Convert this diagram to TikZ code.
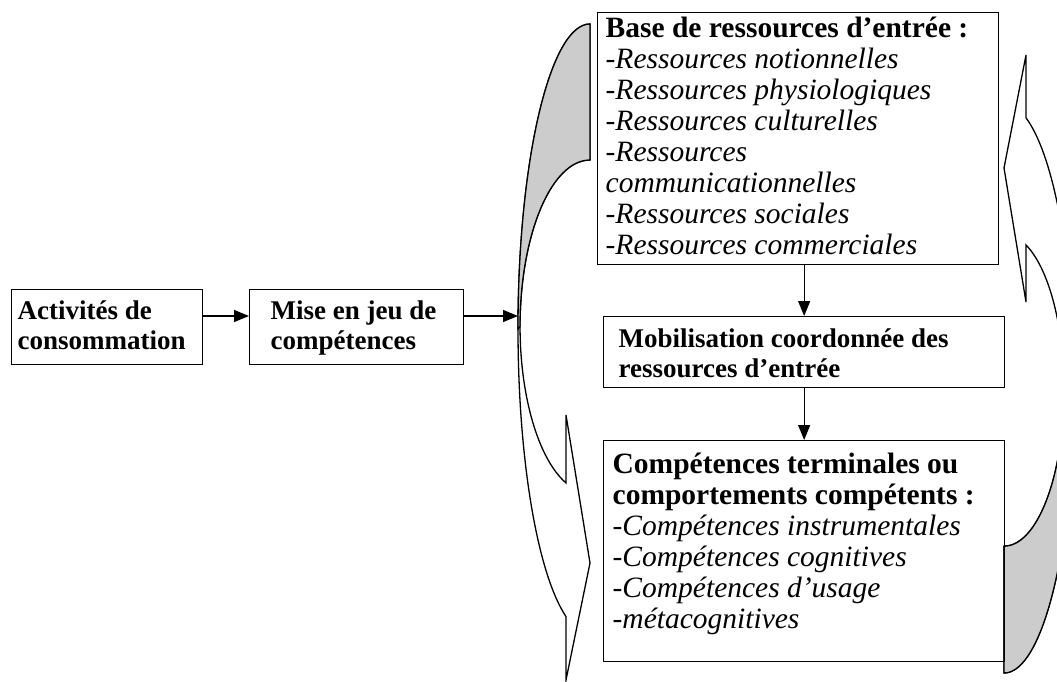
\documentclass[tikz,border=0pt]{standalone}
\usepackage{fontspec}
\setmainfont{Liberation Serif}
\usetikzlibrary{arrows.meta,positioning}
\definecolor{ombre}{RGB}{204,204,204}
\newcommand{\cadre}[4]{\parbox[t][#2][t]{#1}{\raggedright\vspace*{#3}#4}}
\begin{document}
\begin{tikzpicture}[x=1pt,y=-1pt]
				\tikzset{block/.style={draw,line width=1.3pt,anchor=north west,inner sep=0pt,font=\fontsize{27}{30.5}\selectfont},
					grand/.style={block,font=\fontsize{29.5}{31}\selectfont},
					fleche/.style={line width=1.3pt,-{Triangle[length=15pt,width=12pt]}},
					ruban/.style={line width=1.3pt,line join=miter}}
				\useasboundingbox (0,0) rectangle (1057,682);
				\clip (0,0) rectangle (1057,682);
				% ruban gauche
				\filldraw [ruban,fill=white] (590,24) arc[start angle=270,end angle=109.5,x radius=72,y radius=305]
					-- (566,680) -- (590,563) -- (566,415) -- (566,483)
					arc[start angle=110.1,end angle=270,x radius=70,y radius=166.6] -- cycle;
				\filldraw [ruban,fill=ombre] (590,24) arc[start angle=270,end angle=180,x radius=72,y radius=305]
					-- (520,326.6) arc[start angle=180,end angle=270,x radius=70,y radius=166.6] -- cycle;
				% ruban droit
				\filldraw [ruban,fill=white] (1004,673) arc[start angle=90,end angle=-71.7,x radius=70,y radius=284.8]
					-- (1026,55) -- (1004,168) -- (1026,302) -- (1026,245)
					arc[start angle=-68.5,end angle=90,x radius=60,y radius=156] -- cycle;
				\filldraw [ruban,fill=ombre] (1004,673) arc[start angle=90,end angle=0,x radius=70,y radius=284.8]
					-- (1064,390.2) arc[start angle=0,end angle=90,x radius=60,y radius=156] -- cycle;
				\node [block,minimum width=191pt,minimum height=75pt] (activites) at (11,289)
					{\cadre{179pt}{75pt}{11pt}{\textbf{Activités de}\\\textbf{consommation}}};
				\node [block,minimum width=214pt,minimum height=75pt] (miseenjeu) at (249,289)
					{\cadre{172pt}{75pt}{11pt}{\textbf{Mise en jeu de}\\\textbf{compétences}}};
				\node [grand,minimum width=401pt,minimum height=252pt] (base) at (597,12) {\cadre{385pt}{252pt}{4.6pt}{%
					\textbf{Base de ressources d’entrée :}\\
					-\textit{Ressources notionnelles}\\
					-\textit{Ressources physiologiques}\\
					-\textit{Ressources culturelles}\\
					-\textit{Ressources}\\
					\textit{communicationnelles}\\
					-\textit{Ressources sociales}\\
					-\textit{Ressources commerciales}}};
				\node [block,minimum width=401pt,minimum height=71pt] (mobilisation) at (603,316)
					{\cadre{371pt}{71pt}{11.7pt}{\textbf{Mobilisation coordonnée des}\\\textbf{ressources d’entrée}}};
				\node [grand,minimum width=401pt,minimum height=221pt] (competences) at (603,440) {\cadre{383pt}{221pt}{12.6pt}{%
					\textbf{Compétences terminales ou}\\
					\textbf{comportements compétents :}\\
					-\textit{Compétences instrumentales}\\
					-\textit{Compétences cognitives}\\
					-\textit{Compétences d’usage}\\
					-\textit{métacognitives}}};
				\coordinate (pointe) at (518,316);
				\draw [fleche] (activites.east |- pointe) -- (miseenjeu.west |- pointe);
				\draw [fleche] (miseenjeu.east |- pointe) -- (pointe);
				\draw [fleche] (base.south -| mobilisation.north) -- (mobilisation.north);
				\draw [fleche] (mobilisation.south) -- (competences.north);
			\end{tikzpicture}
\end{document}
